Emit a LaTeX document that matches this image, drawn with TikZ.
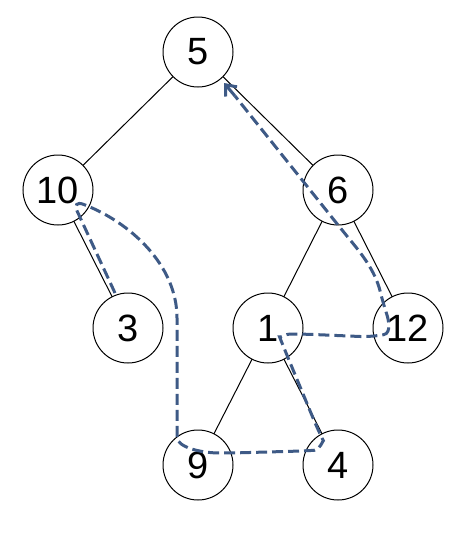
\documentclass[tikz,border=0pt]{standalone}
\usepackage{fontspec}
\setmainfont{Liberation Sans}
\usetikzlibrary{arrows.meta}
\definecolor{walkblue}{RGB}{62,90,134}
\tikzset{
	vertex/.style={circle, draw, line width=1pt, fill=white, minimum size=70pt, inner sep=0pt, font=\fontsize{38}{40}\selectfont},
	walk/.style={walkblue, line width=3pt, dash pattern=on 11pt off 5pt, rounded corners=12pt}
}
\begin{document}
\begin{tikzpicture}[x=1pt,y=-1pt]
			\useasboundingbox (0,0) rectangle (463,533);
			\foreach \n\x\y in {5/198/52,10/58/190,6/338/190,3/128/328,1/268/328,12/408/328,9/198/465,4/338/465}{
				\coordinate (c\n) at (\x,\y);
			}
			\foreach \a\b in {5/10,5/6,10/3,6/1,6/12,1/9,1/4}{
				\draw[line width=1pt] (c\a) -- (c\b);
			}
			\foreach \n in {5,10,6,3,1,12,9,4}{
				\node[vertex] (n\n) at (c\n) {\n};
			}
			% walk round the tree
			\coordinate (w0) at (115,293);
			\coordinate (w1) at (72,200);
			\coordinate (w2) at (224,83);
			\draw[walk] (w0) -- (w1) .. controls (130,222) and (177,265) .. (177,330)
				-- (177,425) .. controls (177,447) and (200,453) .. (232,453)
				-- (302,451) .. controls (320,450) and (323,440) .. (318,430)
				-- (284,348) .. controls (280,338) and (286,334) .. (302,334)
				-- (372,337) .. controls (392,333) and (388,318) .. (383,303)
				.. controls (375,270) and (360,252) .. (342,230)
				-- (235,96);
			\draw[walk, -{Straight Barb[length=9pt,width=15pt]}, solid] (235,96) -- (w2);
		\end{tikzpicture}
\end{document}
